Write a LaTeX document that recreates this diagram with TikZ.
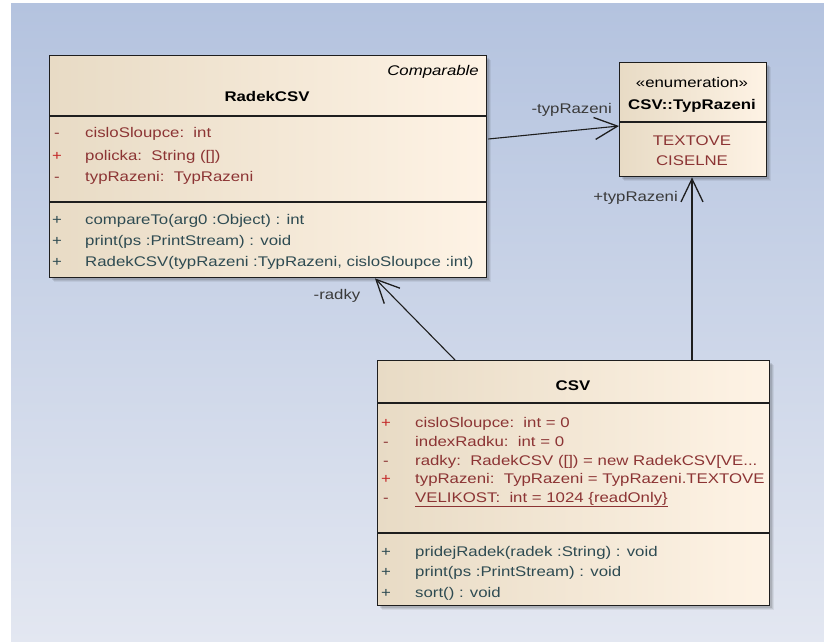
\documentclass[tikz,border=0pt]{standalone}
\usepackage{fontspec}
\setmainfont{Liberation Sans}[FakeStretch=1.2]
\usetikzlibrary{arrows.meta,calc}

\definecolor{bgtop}{HTML}{B4C3DF}
\definecolor{bgbot}{HTML}{E3E7F1}
\definecolor{boxl}{HTML}{E8DBC5}
\definecolor{boxr}{HTML}{FEF3E5}
\definecolor{attrc}{HTML}{8C3434}
\definecolor{plusred}{HTML}{C42A2A}
\definecolor{operc}{HTML}{2E4B52}
\definecolor{edgec}{HTML}{1E1E1E}
\definecolor{lblc}{HTML}{3A3A3A}

\begin{document}
\begin{tikzpicture}[x=1pt,y=-1pt,
  font=\fontsize{14}{16}\selectfont,
  classbox/.style={draw=edgec, line width=1.4pt, left color=boxl, right color=boxr,
    anchor=north west, inner sep=0pt},
  sepline/.style={draw=edgec, line width=1.1pt},
  member/.style={anchor=base west, inner sep=0pt},
  marker/.style={anchor=base, inner sep=0pt},
  title/.style={anchor=base, inner sep=0pt, font=\fontsize{14}{16}\selectfont\bfseries},
  enumval/.style={anchor=base, inner sep=0pt, text=attrc},
  lbl/.style={inner sep=0pt, text=lblc},
  assoc/.style={draw=edgec, line width=1.1pt,
    -{Straight Barb[length=23pt,width=22pt,line width=1.3pt]}},
]
\useasboundingbox (0,0) rectangle (824,642);

% backdrop
\fill[top color=bgtop, bottom color=bgbot] (11,4) rectangle (824,642);

% soft drop shadows
\foreach \x/\y/\w/\h in {49/55/437/222, 619/62/147/114, 377/360/392/245}{
  \foreach \d/\o in {5/0.06, 4/0.08, 3/0.10}{
    \fill[black, opacity=\o] (\x+\d,\y+\d) rectangle (\x+\w+\d,\y+\h+\d);
  }
}

% ---------------- RadekCSV ----------------
\node[classbox, minimum width=437pt, minimum height=222pt] (R) at (49,55) {};
\draw[sepline] ($(R.north west)+(0,61)$) -- ($(R.north east)+(0,61)$);
\draw[sepline] ($(R.north west)+(0,147)$) -- ($(R.north east)+(0,147)$);
\node[anchor=base east, inner sep=0pt, font=\fontsize{14}{16}\selectfont\itshape] (r-iface) at (479,75) {Comparable};
\node[title] (r-name) at (267,101) {RadekCSV};

\node[marker, text=attrc]   (r-m1) at (57,137) {-};
\node[marker, text=plusred] (r-m2) at (57,160) {+};
\node[marker, text=attrc]   (r-m3) at (57,181) {-};
\node[member, text=attrc] (r-a1) at (85,137) {cisloSloupce:\ \ int};
\node[member, text=attrc] (r-a2) at (85,160) {policka:\ \ String ([])};
\node[member, text=attrc] (r-a3) at (85,181) {typRazeni:\ \ TypRazeni};

\node[marker, text=operc] (r-p1) at (57,224) {+};
\node[marker, text=operc] (r-p2) at (57,245) {+};
\node[marker, text=operc] (r-p3) at (57,266) {+};
\node[member, text=operc] (r-o1) at (85,224) {compareTo(arg0 :Object) : int};
\node[member, text=operc] (r-o2) at (85,245) {print(ps :PrintStream) : void};
\node[member, text=operc] (r-o3) at (85,266) {RadekCSV(typRazeni :TypRazeni, cisloSloupce :int)};

% ---------------- CSV::TypRazeni ----------------
\node[classbox, minimum width=147pt, minimum height=114pt] (E) at (619,62) {};
\draw[sepline] ($(E.north west)+(0,60)$) -- ($(E.north east)+(0,60)$);
\node[anchor=base, inner sep=0pt] (e-st) at (692,88) {«enumeration»};
\node[title] (e-name) at (692,109) {CSV::TypRazeni};
\node[enumval] (e-v1) at (692,145) {TEXTOVE};
\node[enumval] (e-v2) at (692,165) {CISELNE};

% ---------------- CSV ----------------
\node[classbox, minimum width=392pt, minimum height=245pt] (C) at (377,360) {};
\draw[sepline] ($(C.north west)+(0,43)$) -- ($(C.north east)+(0,43)$);
\draw[sepline] ($(C.north west)+(0,173)$) -- ($(C.north east)+(0,173)$);
\node[title] (c-name) at (573,390) {CSV};

\node[marker, text=plusred] (c-m1) at (386,427) {+};
\node[marker, text=attrc]   (c-m2) at (386,446) {-};
\node[marker, text=attrc]   (c-m3) at (386,465) {-};
\node[marker, text=plusred] (c-m4) at (386,483) {+};
\node[marker, text=attrc]   (c-m5) at (386,502) {-};
\node[member, text=attrc] (c-a1) at (415,427) {cisloSloupce:\ \ int = 0};
\node[member, text=attrc] (c-a2) at (415,446) {indexRadku:\ \ int = 0};
\node[member, text=attrc] (c-a3) at (415,465) {radky:\ \ RadekCSV ([]) = new RadekCSV[VE...};
\node[member, text=attrc] (c-a4) at (415,483) {typRazeni:\ \ TypRazeni = TypRazeni.TEXTOVE};
\node[member, text=attrc] (c-a5) at (415,502) {\underline{VELIKOST:\ \ int = 1024 \{readOnly\}}};

\node[marker, text=operc] (c-p1) at (386,556) {+};
\node[marker, text=operc] (c-p2) at (386,576) {+};
\node[marker, text=operc] (c-p3) at (386,597) {+};
\node[member, text=operc] (c-o1) at (415,556) {pridejRadek(radek :String) : void};
\node[member, text=operc] (c-o2) at (415,576) {print(ps :PrintStream) : void};
\node[member, text=operc] (c-o3) at (415,597) {sort() : void};

% ---------------- associations ----------------
\coordinate (rOut)  at ($(R.north east)+(1,84)$);
\coordinate (eInL)  at ($(E.north west)+(0,64)$);
\coordinate (eInB)  at ($(E.south west)+(73,0)$);
\coordinate (cUpE)  at ($(C.north west)+(315,0)$);
\coordinate (cUpR)  at ($(C.north west)+(78,0)$);
\coordinate (rInB)  at ($(R.south west)+(326,0)$);

\draw[assoc] (rOut) -- (eInL);
\draw[assoc] (cUpE) -- (eInB);
\draw[assoc] (cUpR) -- (rInB);

\node[lbl, anchor=base east] (l-typ1) at (612,113) {-typRazeni};
\node[lbl, anchor=base east] (l-typ2) at (678,201) {+typRazeni};
\node[lbl, anchor=base] (l-rad) at (337,299) {-radky};
\end{tikzpicture}
\end{document}
